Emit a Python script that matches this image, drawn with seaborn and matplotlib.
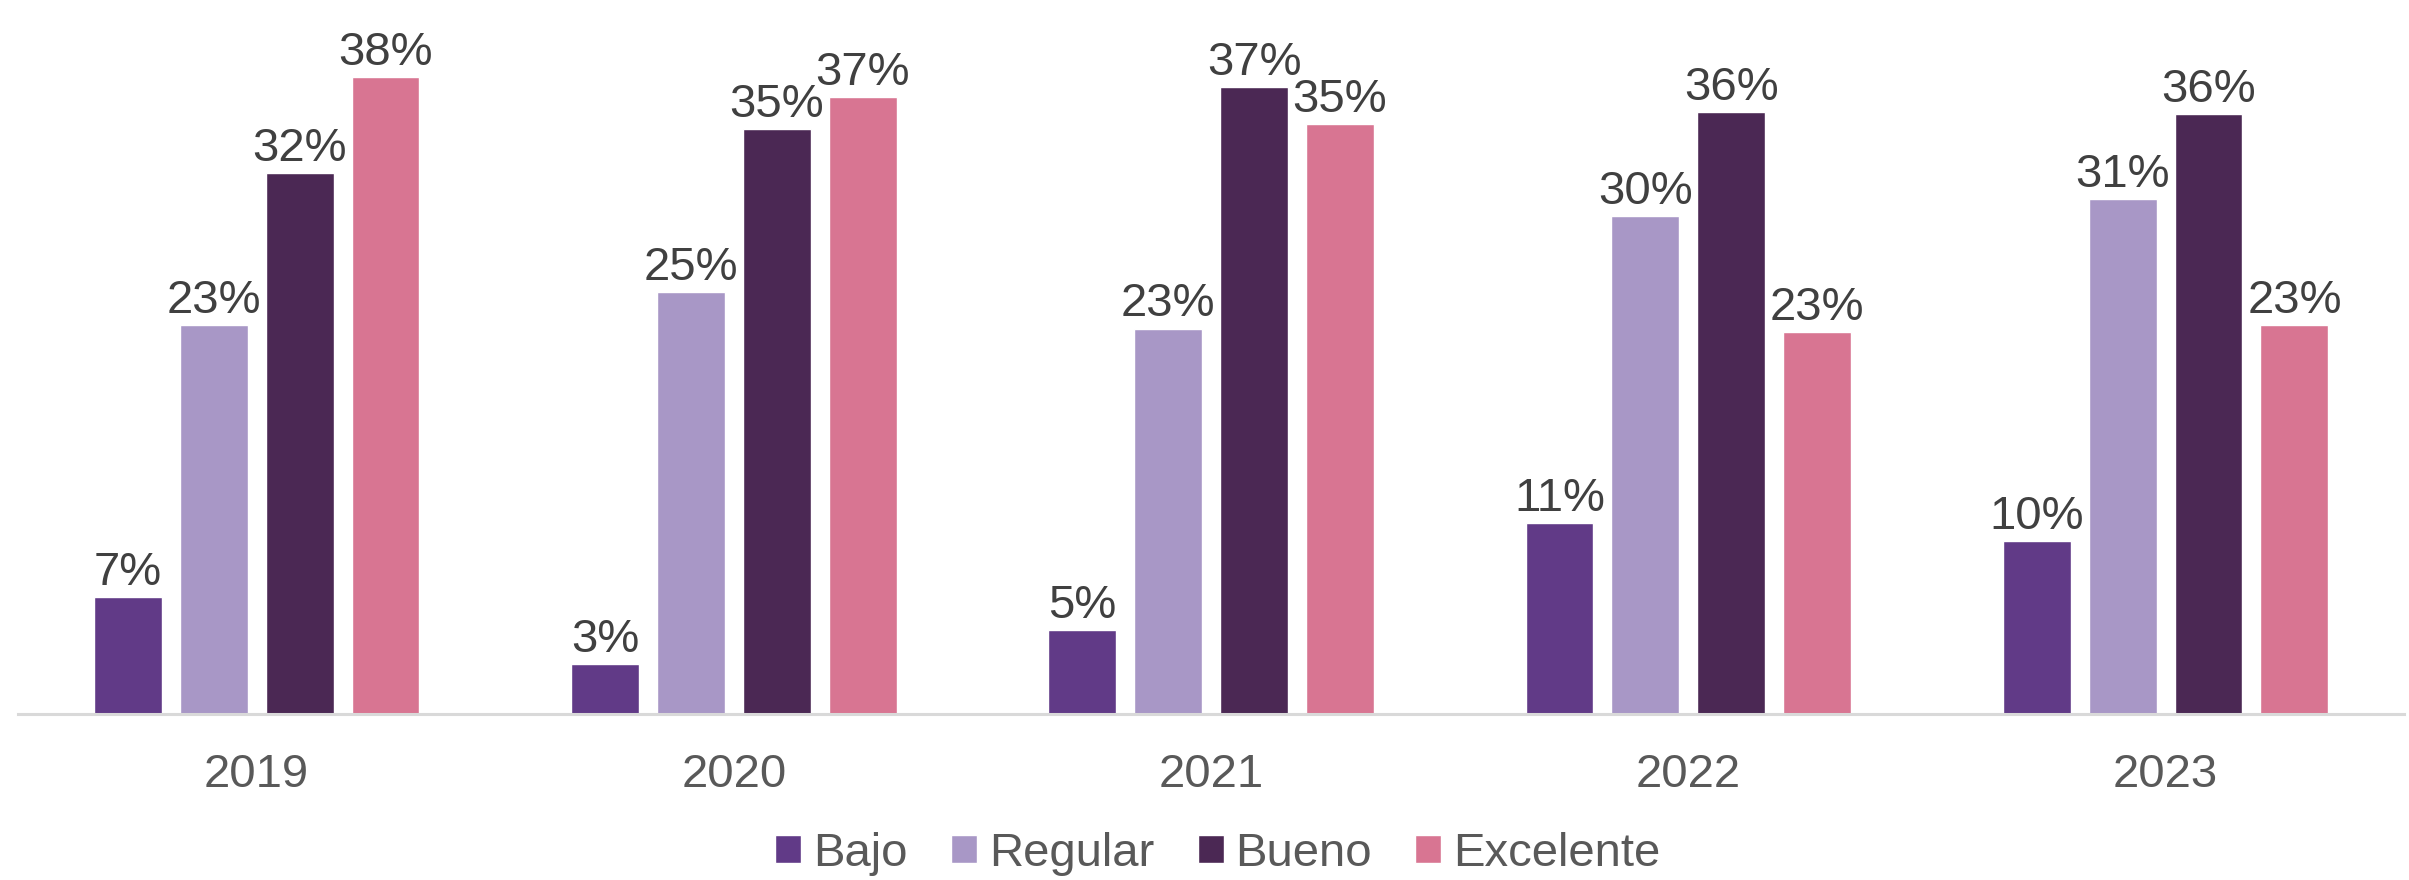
#!/usr/bin/env python3

import matplotlib

matplotlib.use("Agg")
import matplotlib.pyplot as plt
import pandas as pd
import seaborn as sns

# Data (percent of responses per year)
years = ["2019", "2020", "2021", "2022", "2023"]
levels = ["Bajo", "Regular", "Bueno", "Excelente"]
bajo = [7.0, 3.0, 5.0, 11.4, 10.3]
regular = [23.2, 25.2, 23.0, 29.7, 30.7]
bueno = [32.3, 34.9, 37.4, 35.9, 35.8]
excelente = [38.0, 36.8, 35.2, 22.8, 23.2]
colors = ["#613a87", "#a897c6", "#4b2854", "#d87592"]

sns.set_theme(style="white")
plt.rcParams["font.family"] = ["Liberation Sans", "DejaVu Sans"]


def build_frame():
    """
    Long format table for seaborn.
    """
    rows = []
    for level, values in zip(levels, [bajo, regular, bueno, excelente]):
        for year, value in zip(years, values):
            rows.append({"year": year, "nivel": level, "value": value})
    return pd.DataFrame(rows)


def main():
    df = build_frame()
    fig = plt.figure(figsize=(24.09, 8.80), dpi=100)
    ax = fig.add_axes([0.0075, 0.1886, 0.9905, 0.8114])

    sns.barplot(
        data=df,
        x="year",
        y="value",
        hue="nivel",
        hue_order=levels,
        order=years,
        palette=colors,
        saturation=1,
        width=0.72,
        gap=0.21,
        errorbar=None,
        ax=ax,
    )

    # Percent labels above each bar
    for container in ax.containers:
        labels = [f"{round(b.get_height())}%" for b in container]
        ax.bar_label(container, labels=labels, padding=1.5, fontsize=34, color="#404040")

    ax.set_xlim(-0.5, 4.5)
    ax.set_ylim(0, 42.6)
    ax.set_xlabel("")
    ax.set_ylabel("")
    ax.set_yticks([])
    ax.tick_params(axis="x", length=0, pad=28, labelsize=34, labelcolor="#595959")
    for side in ["top", "left", "right"]:
        ax.spines[side].set_visible(False)
    ax.spines["bottom"].set_color("#d9d9d9")
    ax.spines["bottom"].set_linewidth(2.2)

    ax.legend_.remove()
    handles, names = ax.get_legend_handles_labels()
    fig.legend(
        handles,
        names,
        loc="center",
        bbox_to_anchor=(0.5056, 0.030),
        ncol=4,
        frameon=False,
        fontsize=34,
        labelcolor="#595959",
        handlelength=0.55,
        handleheight=0.55,
        handletextpad=0.25,
        columnspacing=0.92,
        borderaxespad=0,
    )

    fig.savefig("out.png", dpi=100)


if __name__ == "__main__":
    main()
